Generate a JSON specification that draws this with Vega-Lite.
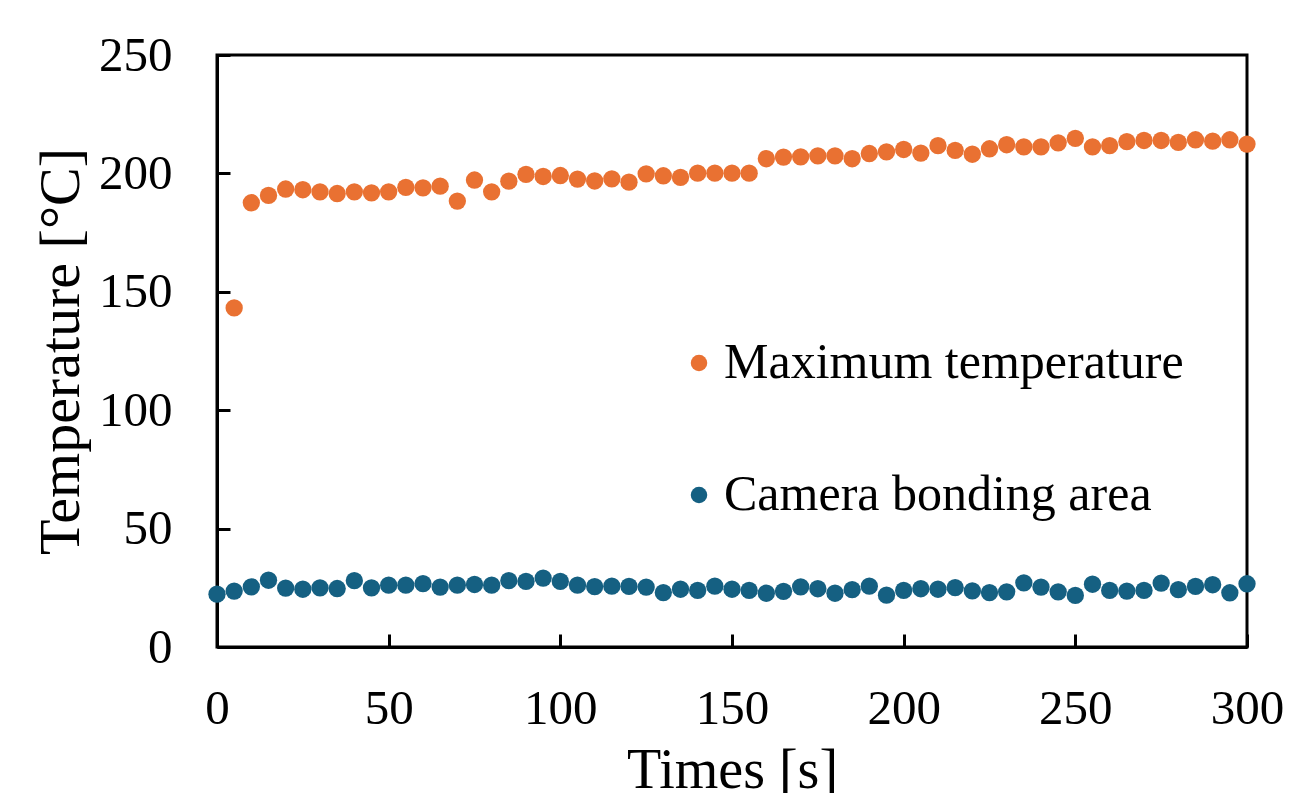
{
  "$schema": "https://vega.github.io/schema/vega-lite/v6.json",
  "autosize": {"type": "none"},
  "padding": {"left": 217, "top": 55, "right": 44, "bottom": 146},
  "width": 1030,
  "height": 592,
  "background": "white",
  "config": {
    "font": "Liberation Serif",
    "view": {"stroke": "black", "strokeWidth": 3},
    "axis": {
      "grid": false,
      "domainColor": "black",
      "domainWidth": 3,
      "tickColor": "black",
      "tickWidth": 3,
      "tickSize": -13,
      "labelFont": "Liberation Serif",
      "labelFontSize": 49,
      "labelColor": "black",
      "titleFont": "Liberation Serif",
      "titleFontSize": 56,
      "titleFontWeight": "normal",
      "titleColor": "black"
    }
  },
  "data": {
    "values": [
      {"t": 5, "s": "Maximum temperature", "v": 143.2},
      {"t": 10, "s": "Maximum temperature", "v": 187.6},
      {"t": 15, "s": "Maximum temperature", "v": 190.7},
      {"t": 20, "s": "Maximum temperature", "v": 193.4},
      {"t": 25, "s": "Maximum temperature", "v": 193.1},
      {"t": 30, "s": "Maximum temperature", "v": 192.2},
      {"t": 35, "s": "Maximum temperature", "v": 191.5},
      {"t": 40, "s": "Maximum temperature", "v": 192.2},
      {"t": 45, "s": "Maximum temperature", "v": 191.8},
      {"t": 50, "s": "Maximum temperature", "v": 192.2},
      {"t": 55, "s": "Maximum temperature", "v": 194.1},
      {"t": 60, "s": "Maximum temperature", "v": 193.9},
      {"t": 65, "s": "Maximum temperature", "v": 194.6},
      {"t": 70, "s": "Maximum temperature", "v": 188.3},
      {"t": 75, "s": "Maximum temperature", "v": 197.2},
      {"t": 80, "s": "Maximum temperature", "v": 192.2},
      {"t": 85, "s": "Maximum temperature", "v": 196.7},
      {"t": 90, "s": "Maximum temperature", "v": 199.6},
      {"t": 95, "s": "Maximum temperature", "v": 198.7},
      {"t": 100, "s": "Maximum temperature", "v": 199.1},
      {"t": 105, "s": "Maximum temperature", "v": 197.6},
      {"t": 110, "s": "Maximum temperature", "v": 196.8},
      {"t": 115, "s": "Maximum temperature", "v": 197.7},
      {"t": 120, "s": "Maximum temperature", "v": 196.3},
      {"t": 125, "s": "Maximum temperature", "v": 199.8},
      {"t": 130, "s": "Maximum temperature", "v": 199.0},
      {"t": 135, "s": "Maximum temperature", "v": 198.3},
      {"t": 140, "s": "Maximum temperature", "v": 200.1},
      {"t": 145, "s": "Maximum temperature", "v": 200.1},
      {"t": 150, "s": "Maximum temperature", "v": 200.1},
      {"t": 155, "s": "Maximum temperature", "v": 200.1},
      {"t": 160, "s": "Maximum temperature", "v": 206.2},
      {"t": 165, "s": "Maximum temperature", "v": 206.9},
      {"t": 170, "s": "Maximum temperature", "v": 207.0},
      {"t": 175, "s": "Maximum temperature", "v": 207.4},
      {"t": 180, "s": "Maximum temperature", "v": 207.4},
      {"t": 185, "s": "Maximum temperature", "v": 206.2},
      {"t": 190, "s": "Maximum temperature", "v": 208.4},
      {"t": 195, "s": "Maximum temperature", "v": 209.1},
      {"t": 200, "s": "Maximum temperature", "v": 210.1},
      {"t": 205, "s": "Maximum temperature", "v": 208.6},
      {"t": 210, "s": "Maximum temperature", "v": 211.7},
      {"t": 215, "s": "Maximum temperature", "v": 209.7},
      {"t": 220, "s": "Maximum temperature", "v": 208.1},
      {"t": 225, "s": "Maximum temperature", "v": 210.4},
      {"t": 230, "s": "Maximum temperature", "v": 212.1},
      {"t": 235, "s": "Maximum temperature", "v": 211.2},
      {"t": 240, "s": "Maximum temperature", "v": 211.2},
      {"t": 245, "s": "Maximum temperature", "v": 212.9},
      {"t": 250, "s": "Maximum temperature", "v": 214.8},
      {"t": 255, "s": "Maximum temperature", "v": 211.2},
      {"t": 260, "s": "Maximum temperature", "v": 211.7},
      {"t": 265, "s": "Maximum temperature", "v": 213.4},
      {"t": 270, "s": "Maximum temperature", "v": 213.9},
      {"t": 275, "s": "Maximum temperature", "v": 213.9},
      {"t": 280, "s": "Maximum temperature", "v": 213.1},
      {"t": 285, "s": "Maximum temperature", "v": 214.2},
      {"t": 290, "s": "Maximum temperature", "v": 213.6},
      {"t": 295, "s": "Maximum temperature", "v": 214.2},
      {"t": 300, "s": "Maximum temperature", "v": 212.4},
      {"t": 0, "s": "Camera bonding area", "v": 22.3},
      {"t": 5, "s": "Camera bonding area", "v": 23.6},
      {"t": 10, "s": "Camera bonding area", "v": 25.4},
      {"t": 15, "s": "Camera bonding area", "v": 28.2},
      {"t": 20, "s": "Camera bonding area", "v": 24.9},
      {"t": 25, "s": "Camera bonding area", "v": 24.4},
      {"t": 30, "s": "Camera bonding area", "v": 25.0},
      {"t": 35, "s": "Camera bonding area", "v": 24.7},
      {"t": 40, "s": "Camera bonding area", "v": 28.0},
      {"t": 45, "s": "Camera bonding area", "v": 25.0},
      {"t": 50, "s": "Camera bonding area", "v": 26.1},
      {"t": 55, "s": "Camera bonding area", "v": 26.1},
      {"t": 60, "s": "Camera bonding area", "v": 26.8},
      {"t": 65, "s": "Camera bonding area", "v": 25.3},
      {"t": 70, "s": "Camera bonding area", "v": 26.1},
      {"t": 75, "s": "Camera bonding area", "v": 26.4},
      {"t": 80, "s": "Camera bonding area", "v": 26.1},
      {"t": 85, "s": "Camera bonding area", "v": 28.0},
      {"t": 90, "s": "Camera bonding area", "v": 27.7},
      {"t": 95, "s": "Camera bonding area", "v": 29.1},
      {"t": 100, "s": "Camera bonding area", "v": 27.7},
      {"t": 105, "s": "Camera bonding area", "v": 26.1},
      {"t": 110, "s": "Camera bonding area", "v": 25.5},
      {"t": 115, "s": "Camera bonding area", "v": 25.7},
      {"t": 120, "s": "Camera bonding area", "v": 25.6},
      {"t": 125, "s": "Camera bonding area", "v": 25.3},
      {"t": 130, "s": "Camera bonding area", "v": 23.0},
      {"t": 135, "s": "Camera bonding area", "v": 24.4},
      {"t": 140, "s": "Camera bonding area", "v": 23.9},
      {"t": 145, "s": "Camera bonding area", "v": 25.7},
      {"t": 150, "s": "Camera bonding area", "v": 24.4},
      {"t": 155, "s": "Camera bonding area", "v": 23.9},
      {"t": 160, "s": "Camera bonding area", "v": 22.7},
      {"t": 165, "s": "Camera bonding area", "v": 23.5},
      {"t": 170, "s": "Camera bonding area", "v": 25.4},
      {"t": 175, "s": "Camera bonding area", "v": 24.6},
      {"t": 180, "s": "Camera bonding area", "v": 22.7},
      {"t": 185, "s": "Camera bonding area", "v": 24.2},
      {"t": 190, "s": "Camera bonding area", "v": 25.7},
      {"t": 195, "s": "Camera bonding area", "v": 21.9},
      {"t": 200, "s": "Camera bonding area", "v": 23.9},
      {"t": 205, "s": "Camera bonding area", "v": 24.6},
      {"t": 210, "s": "Camera bonding area", "v": 24.4},
      {"t": 215, "s": "Camera bonding area", "v": 25.1},
      {"t": 220, "s": "Camera bonding area", "v": 23.7},
      {"t": 225, "s": "Camera bonding area", "v": 23.0},
      {"t": 230, "s": "Camera bonding area", "v": 23.3},
      {"t": 235, "s": "Camera bonding area", "v": 27.1},
      {"t": 240, "s": "Camera bonding area", "v": 25.3},
      {"t": 245, "s": "Camera bonding area", "v": 23.3},
      {"t": 250, "s": "Camera bonding area", "v": 21.8},
      {"t": 255, "s": "Camera bonding area", "v": 26.5},
      {"t": 260, "s": "Camera bonding area", "v": 23.9},
      {"t": 265, "s": "Camera bonding area", "v": 23.6},
      {"t": 270, "s": "Camera bonding area", "v": 23.9},
      {"t": 275, "s": "Camera bonding area", "v": 27.0},
      {"t": 280, "s": "Camera bonding area", "v": 24.2},
      {"t": 285, "s": "Camera bonding area", "v": 25.6},
      {"t": 290, "s": "Camera bonding area", "v": 26.3},
      {"t": 295, "s": "Camera bonding area", "v": 22.9},
      {"t": 300, "s": "Camera bonding area", "v": 26.7}
    ]
  },
  "mark": {"type": "circle", "size": 300, "opacity": 1},
  "encoding": {
    "x": {
      "field": "t",
      "type": "quantitative",
      "title": "Times [s]",
      "scale": {"domain": [0, 300], "nice": false},
      "axis": {"values": [0, 50, 100, 150, 200, 250, 300], "labelPadding": 50, "titlePadding": 10, "labelFlush": false}
    },
    "y": {
      "field": "v",
      "type": "quantitative",
      "title": "Temperature [°C]",
      "scale": {"domain": [0, 250], "nice": false},
      "axis": {"values": [0, 50, 100, 150, 200, 250], "labelPadding": 58, "titlePadding": 8, "titleFontSize": 58, "labelFlush": false}
    },
    "color": {
      "field": "s",
      "type": "nominal",
      "scale": {"domain": ["Maximum temperature", "Camera bonding area"], "range": ["#E97132", "#156082"]},
      "legend": {
        "title": null,
        "orient": "none",
        "legendX": 457,
        "legendY": 283,
        "symbolType": "circle",
        "symbolSize": 272,
        "symbolOpacity": 1,
        "labelFont": "Liberation Serif",
        "labelFontSize": 50,
        "labelColor": "black",
        "labelOffset": 0,
        "rowPadding": 82,
        "labelLimit": 0
      }
    }
  }
}
